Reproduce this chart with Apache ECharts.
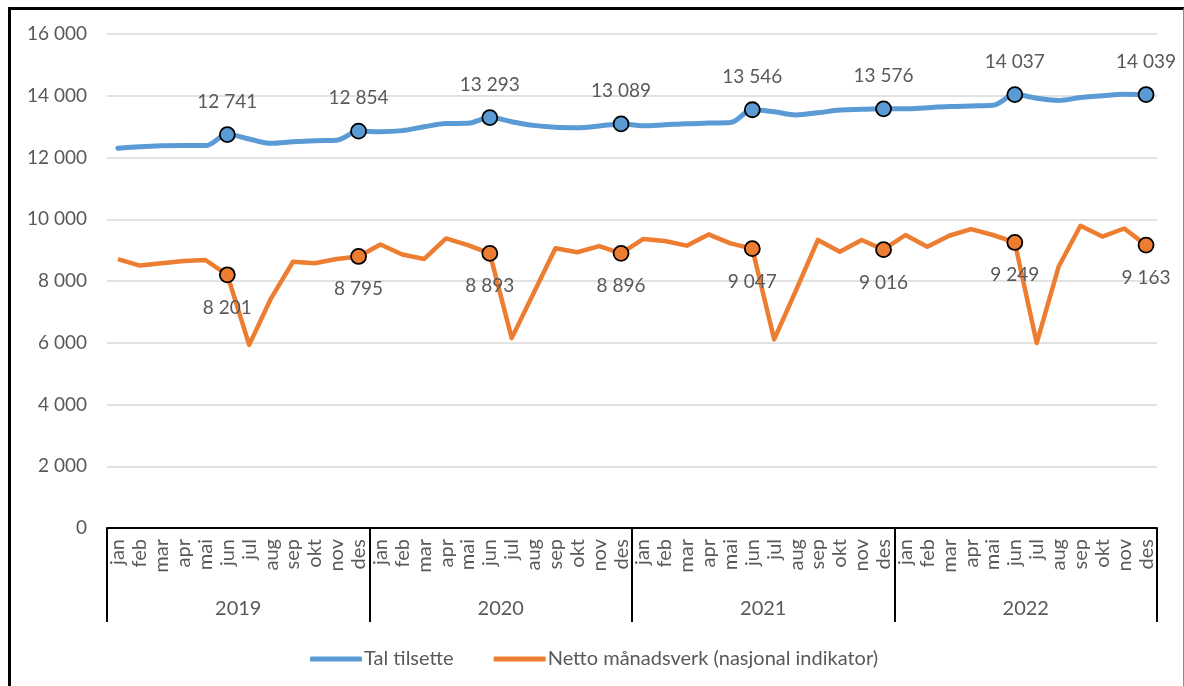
<!DOCTYPE html>
<html>
<head>
<meta charset="utf-8">
<script src="https://cdn.jsdelivr.net/npm/echarts@6/dist/echarts.min.js"></script>
<style>
	html, body { margin: 0; padding: 0; background: #fff; }
	#chart { width: 1184px; height: 686px; }
	/* ramma rundt figuren */
	#frame {
		position: absolute; left: 8px; top: 7px; width: 1172px; height: 700px;
		border-left: 3px solid #000; border-top: 3px solid #000; border-right: 1px solid #8a8a8a;
		pointer-events: none;
	}
</style>
</head>
<body>
<div id="chart"></div>
<div id="frame"></div>
<script>
	var months = ['jan', 'feb', 'mar', 'apr', 'mai', 'jun', 'jul', 'aug', 'sep', 'okt', 'nov', 'des'];
	var years = ['2019', '2020', '2021', '2022'];
	var seriesNames = ['Tal tilsette', 'Netto månadsverk (nasjonal indikator)'];

	// Tal tilsette, jan 2019 - des 2022
	var talTilsette = [
		12300, 12350, 12380, 12390, 12385, 12741, 12600, 12460, 12510, 12545, 12560, 12854,
		12835, 12870, 12995, 13100, 13110, 13293, 13160, 13040, 12980, 12965, 13020, 13089,
		13030, 13060, 13095, 13115, 13130, 13546, 13480, 13380, 13450, 13535, 13560, 13576,
		13575, 13615, 13650, 13670, 13690, 14037, 13920, 13850, 13940, 14000, 14050, 14039
	];
	// Netto månadsverk (nasjonal indikator)
	var nettoManadsverk = [
		8710, 8500, 8575, 8645, 8680, 8201, 5930, 7440, 8620, 8575, 8710, 8795,
		9180, 8860, 8715, 9380, 9165, 8893, 6150, 7600, 9060, 8930, 9130, 8896,
		9360, 9295, 9145, 9510, 9220, 9047, 6110, 7700, 9330, 8950, 9330, 9016,
		9490, 9110, 9465, 9680, 9490, 9249, 5990, 8460, 9790, 9440, 9700, 9163
	];
	// punkt med markør og etikett (jun og des)
	var markedMonths = [5, 11];

	var categories = [];
	years.forEach(function() { categories = categories.concat(months); });

	var font = 'Lato, "Open Sans", sans-serif';
	var grey = '#595959';

	function fmt(v) {
		return String(Math.round(v)).replace(/\B(?=(\d{3})+(?!\d))/g, ' ');
	}

	function buildData(values) {
		return values.map(function(v, i) {
			if (markedMonths.indexOf(i % 12) >= 0) {
				return { value: v, symbol: 'circle', symbolSize: 15, label: { show: true } };
			}
			return { value: v, symbol: 'none', label: { show: false } };
		});
	}

	var chart = echarts.init(document.getElementById('chart'));
	var option = {
		animation: false,
		textStyle: { fontFamily: font },
		grid: {
			left: 107, right: 27, top: 34, bottom: 158,
			containLabel: false,
			outerBoundsMode: 'none'
		},
		legend: {
			left: 305,
			top: 644,
			icon: 'roundRect',
			itemWidth: 52,
			itemHeight: 5,
			itemGap: 40,
			itemStyle: { borderWidth: 0 },
			textStyle: { color: grey, fontSize: 20, fontFamily: font, padding: [0, 0, 0, -3] },
			data: seriesNames
		},
		xAxis: [{
			type: 'category',
			data: categories,
			boundaryGap: true,
			position: 'bottom',
			axisLine: { show: true, lineStyle: { color: '#000', width: 2 } },
			axisTick: { show: false },
			axisLabel: {
				interval: 0, rotate: 90, margin: 11,
				color: grey, fontSize: 20, fontFamily: font
			},
			splitLine: { show: false }
		}, {
			type: 'category',
			data: years,
			boundaryGap: true,
			position: 'bottom',
			axisLine: { show: false },
			axisTick: { show: true, length: 94, interval: 0, lineStyle: { color: '#000', width: 2 } },
			axisLabel: { interval: 0, margin: 71, color: grey, fontSize: 20, fontFamily: font },
			splitLine: { show: false }
		}],
		yAxis: {
			type: 'value',
			min: 0,
			max: 16000,
			interval: 2000,
			axisLine: { show: false },
			axisTick: { show: false },
			axisLabel: { margin: 20, color: grey, fontSize: 19, fontFamily: font, formatter: fmt },
			splitLine: { lineStyle: { color: '#d9d9d9', width: 1.5 } }
		},
		series: [{
			name: seriesNames[0],
			type: 'line',
			smooth: 0.35,
			showAllSymbol: true,
			color: '#5b9bd5',
			lineStyle: { width: 5, color: '#5b9bd5', cap: 'round' },
			itemStyle: { color: '#5b9bd5', borderColor: '#000', borderWidth: 1.8 },
			label: {
				position: 'top', distance: 15, color: grey, fontSize: 19, fontFamily: font,
				formatter: function(p) { return fmt(p.value); }
			},
			z: 3,
			data: buildData(talTilsette)
		}, {
			name: seriesNames[1],
			type: 'line',
			showAllSymbol: true,
			color: '#ed7d31',
			lineStyle: { width: 4.5, color: '#ed7d31', join: 'round' },
			itemStyle: { color: '#ed7d31', borderColor: '#000', borderWidth: 1.8 },
			label: {
				position: 'bottom', distance: 15, color: grey, fontSize: 19, fontFamily: font,
				formatter: function(p) { return fmt(p.value); }
			},
			z: 2,
			data: buildData(nettoManadsverk)
		}]
	};
	chart.setOption(option);
</script>
</body>
</html>
